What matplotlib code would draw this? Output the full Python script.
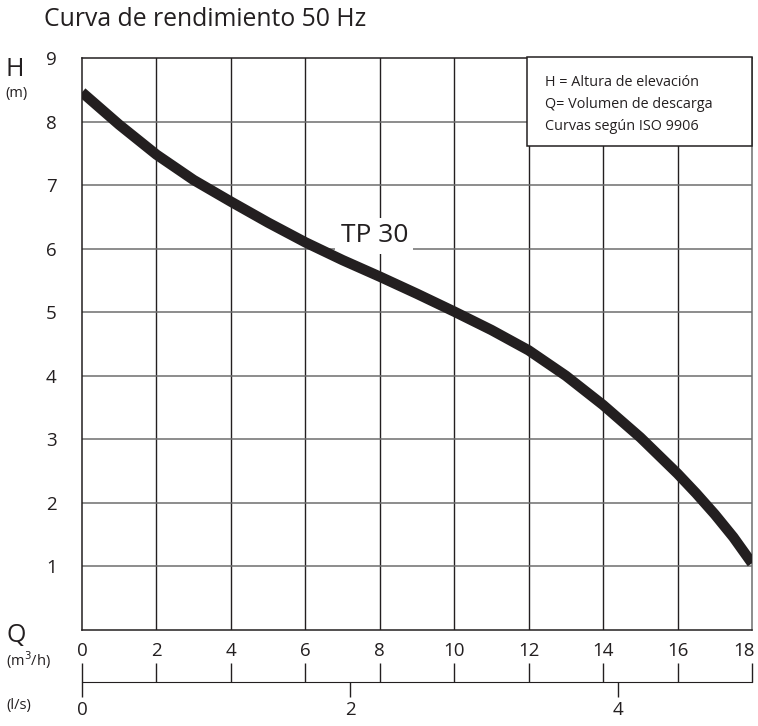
import matplotlib
matplotlib.use("Agg")
import matplotlib.pyplot as plt
from matplotlib.patches import Rectangle
from matplotlib.transforms import ScaledTranslation

plt.rcParams['font.family'] = ['Open Sans', 'DejaVu Sans']

# data
q_m3h = [0, 1, 2, 3, 4, 5, 6, 7, 8, 9, 10, 11, 12, 13, 14, 15, 16, 16.5, 17, 17.5, 18]
h_m = [8.46, 7.95, 7.48, 7.08, 6.74, 6.41, 6.10, 5.82, 5.56, 5.29, 5.01,
       4.72, 4.40, 4.00, 3.54, 3.03, 2.46, 2.15, 1.82, 1.46, 1.05]
x_ticks = [0, 2, 4, 6, 8, 10, 12, 14, 16, 18]
y_ticks = [1, 2, 3, 4, 5, 6, 7, 8, 9]
ls_ticks = [0, 2, 4]
curve_label = "TP 30"
title = "Curva de rendimiento 50 Hz"
legend_lines = ["H = Altura de elevación", "Q= Volumen de descarga", "Curvas según ISO 9906"]

W, H = 758, 726
fig = plt.figure(figsize=(W / 100, H / 100), dpi=100)

def fx(px):
    return px / W

def fy(py):
    return 1 - py / H

L, R, T, B = 82, 752, 58, 630
ax = fig.add_axes([fx(L), fy(B), (R - L) / W, (B - T) / H])
ax.set_xlim(0, 18)
ax.set_ylim(0, 9)
dark = '#231f20'
for x in x_ticks[1:-1]:
    ax.axvline(x, color=dark, lw=1.0, zorder=1)
for y in y_ticks[:-1]:
    ax.axhline(y, color='#6d6d6d', lw=1.1, zorder=1)
for s in ax.spines.values():
    s.set_color(dark)
    s.set_linewidth(1.1)
ax.spines['right'].set_color('#6d6d6d')
ax.set_xticks([])
ax.set_yticks(y_ticks)
ax.set_yticklabels([str(v) for v in y_ticks], fontsize=13.5, color=dark)
ax.tick_params(axis='y', length=0, pad=22)
for lab in ax.get_yticklabels():
    lab.set_horizontalalignment('center')

ax.plot(q_m3h, h_m, color=dark, lw=7.5, solid_capstyle='butt', solid_joinstyle='round', zorder=3)
ax.text(7.85, 6.2, curve_label, fontsize=19, color=dark, ha='center', va='center',
        bbox=dict(boxstyle='square,pad=0.2', facecolor='white', edgecolor='none'), zorder=2)

# legend box
box_l, box_r, box_t, box_b = 527, 752, 57, 146
fig.patches.append(Rectangle((fx(box_l), fy(box_b)), (box_r - box_l) / W, (box_b - box_t) / H,
                             transform=fig.transFigure, facecolor='white', edgecolor=dark,
                             lw=1.1, zorder=5))
for i, t in enumerate(legend_lines):
    fig.text(fx(545), fy(83 + i * 22), t, fontsize=10.4, color=dark, va='center', ha='left', zorder=6)

# Q axis
axq = fig.add_axes([fx(L), fy(682), (R - L) / W, 0.0001])
axq.set_xlim(0, 18)
axq.set_yticks([])
for s in ['left', 'right', 'top']:
    axq.spines[s].set_visible(False)
axq.spines['bottom'].set_color(dark)
axq.patch.set_visible(False)
axq.set_xticks(x_ticks)
axq.set_xticklabels([str(v) for v in x_ticks], fontsize=13.5, color=dark)
axq.tick_params(axis='x', bottom=False, labelbottom=False, top=True, labeltop=True,
                direction='out', length=14, width=1.0, color=dark, pad=2)
last = axq.get_xticklabels(which='major')[-1]
last.set_transform(last.get_transform() + ScaledTranslation(-8 / 100, 0, fig.dpi_scale_trans))

sec = axq.secondary_xaxis('bottom', functions=(lambda q: q / 3.6, lambda l: l * 3.6))
sec.set_xticks(ls_ticks)
sec.set_xticklabels([str(v) for v in ls_ticks], fontsize=13.5, color=dark)
sec.tick_params(axis='x', direction='out', length=11, width=1.0, color=dark, pad=3)
sec.spines['bottom'].set_visible(False)

# axis titles
fig.text(fx(6), fy(69), "H", fontsize=18, color=dark, va='center', ha='left')
fig.text(fx(5), fy(94), "(m)", fontsize=10.5, color=dark, va='center', ha='left')
fig.text(fx(6), fy(635), "Q", fontsize=18, color=dark, va='center', ha='left')
fig.text(fx(6), fy(660), "(m$^3$/h)", fontsize=10.5, color=dark, va='center', ha='left')
fig.text(fx(6), fy(706), "(l/s)", fontsize=10.5, color=dark, va='center', ha='left')

fig.text(fx(44), fy(19), title, fontsize=17.8, color=dark, va='center', ha='left')

fig.savefig("out.png", dpi=100, facecolor='white')
